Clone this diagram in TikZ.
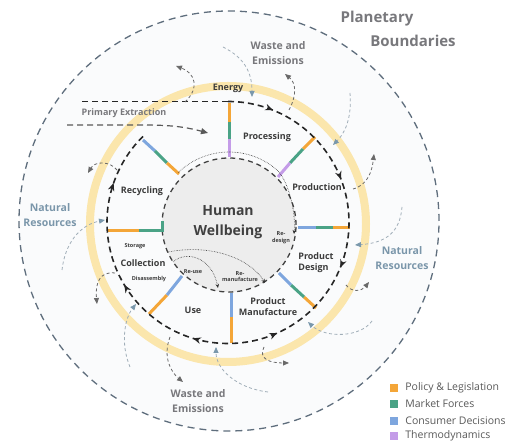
\documentclass[tikz,border=0pt]{standalone}
\usepackage{fontspec}
\setmainfont{Open Sans}
\usetikzlibrary{arrows.meta,decorations.markings,positioning}

\definecolor{policy}{RGB}{244,166,56}
\definecolor{market}{RGB}{74,163,134}
\definecolor{consumer}{RGB}{126,166,222}
\definecolor{thermo}{RGB}{196,156,232}
\definecolor{ringyellow}{RGB}{251,230,172}
\definecolor{bgfill}{RGB}{250,251,252}
\definecolor{hubfill}{RGB}{237,237,237}
\definecolor{boundary}{RGB}{95,110,125}
\definecolor{labeltext}{RGB}{60,60,60}
\definecolor{greytext}{RGB}{120,120,124}
\definecolor{resourcetext}{RGB}{122,150,170}
\definecolor{outgrey}{RGB}{105,105,105}
\definecolor{ingrey}{RGB}{160,174,184}
\definecolor{inhead}{RGB}{122,152,172}

\tikzset{
  boundaryline/.style={boundary, line width=1.3pt, dash pattern=on 7pt off 5pt},
  procline/.style={black!85, line width=1.6pt, dash pattern=on 6pt off 4pt},
  hubline/.style={black!75, line width=1.3pt, dash pattern=on 5pt off 4pt},
  spoke/.style={line width=3pt},
  loopline/.style={black!80, line width=0.6pt, densely dotted, -{Stealth[length=4pt,width=3.5pt]}},
  outflow/.style={outgrey, line width=0.8pt, dash pattern=on 3pt off 2.5pt, -{Triangle[length=6pt,width=5pt]}},
  inflow/.style={ingrey, line width=0.8pt, dash pattern=on 3pt off 2.5pt, -{Triangle[length=6pt,width=5pt,color=inhead]}},
  stage/.style={font=\bfseries\fontsize{9}{11}\selectfont, text=labeltext, align=center, inner sep=0pt},
  minor/.style={font=\bfseries\fontsize{5.5}{6.5}\selectfont, text=labeltext, align=center, inner sep=0pt},
  outside/.style={font=\bfseries\fontsize{10.5}{15}\selectfont, text=greytext, align=center, inner sep=0pt},
  resource/.style={font=\bfseries\fontsize{10.5}{15}\selectfont, text=resourcetext, align=center, inner sep=0pt},
  keybox/.style={minimum size=8pt, inner sep=0pt},
  keytext/.style={font=\fontsize{10.5}{12}\selectfont, text=black!65, inner sep=0pt, anchor=west}
}

\begin{document}
\begin{tikzpicture}[x=1pt,y=1pt]
  \useasboundingbox (0,0) rectangle (527,443);

  % planetary boundary
  \fill[bgfill] (229,222) circle[radius=210pt];
  \draw[boundaryline] (229,222) circle[radius=210pt];

  % energy ring
  \draw[ringyellow, line width=8pt] (228,219) circle[radius=138pt];

  % human wellbeing hub
  \fill[hubfill] (229,218) circle[radius=67pt];
  \draw[hubline] (229,218) circle[radius=67pt];

  % spokes, outer end first
  \draw[spoke, policy] (229,340) -- (229,321);
  \draw[spoke, market] (229,321) -- (229,304);
  \draw[spoke, thermo] (229,304) -- (229,286);

  \draw[spoke, policy] (315,306) -- (303,294);
  \draw[spoke, market] (303,294) -- (290,280);
  \draw[spoke, thermo] (290,280) -- (278,266);

  \draw[spoke, policy] (350,215) -- (333,215);
  \draw[spoke, market] (333,215) -- (316,215);
  \draw[spoke, consumer] (316,215) -- (298,215);

  \draw[spoke, policy] (316,135) -- (304,146);
  \draw[spoke, market] (304,146) -- (291,158);
  \draw[spoke, consumer] (291,158) -- (279,170);

  \draw[spoke, policy] (231,100) -- (231,126);
  \draw[spoke, consumer] (231,126) -- (231,150);

  \draw[spoke, policy] (149,129) -- (167,148);
  \draw[spoke, consumer] (167,148) -- (182,167);

  \draw[spoke, policy] (107,212) -- (139,212);
  \draw[spoke, market] (139,212) -- (162,212) -- (162,222);

  \draw[spoke, consumer] (143,303) -- (155,292);
  \draw[spoke, market] (155,292) -- (167,280);
  \draw[spoke, policy] (167,280) -- (179,269);

  % life cycle loop
  \draw[procline] (82,341.5) -- (228,341.5);
  \draw[procline, postaction={decorate}, decoration={markings,
      mark=at position 0.069 with {\arrow{Stealth[length=8pt,width=6.5pt]}},
      mark=at position 0.218 with {\arrow{Stealth[length=8pt,width=6.5pt]}},
      mark=at position 0.353 with {\arrow{Stealth[length=8pt,width=6.5pt]}},
      mark=at position 0.492 with {\arrowreversed{Stealth[length=8pt,width=6.5pt]}},
      mark=at position 0.621 with {\arrow{Stealth[length=8pt,width=6.5pt]}},
      mark=at position 0.754 with {\arrow{Stealth[length=8pt,width=6.5pt]}},
      mark=at position 0.912 with {\arrow{Stealth[length=8pt,width=6.5pt]}}}]
    (228,341.5) arc[start angle=90, end angle=-227, radius=121pt];

  % primary extraction feed
  \draw[black!65, line width=1.2pt, dash pattern=on 6pt off 4pt, -{Triangle[length=7pt,width=6pt]}]
    (67,318) -- (140,318) to[out=0, in=165] (208,310);

  % inner loops
  \draw[loopline] (178.3,270.5) arc[start angle=134, end angle=50, radius=73pt]
    .. controls (288,264) and (296,232) .. (294,209);
  \draw[loopline] (168,191) .. controls (215,200) and (252,182) .. (265,160);
  \draw[loopline] (173,181) .. controls (186,193) and (212,186) .. (218,155);

  % flows out of and into the loop
  \draw[outflow] (185,341) .. controls (200,355) and (195,370) .. (176,377);
  \draw[inflow] (223,396) .. controls (245,385) and (252,370) .. (252,346);
  \draw[outflow] (289,333) .. controls (297,348) and (296,360) .. (285,369);
  \draw[inflow] (350,350) .. controls (352,325) and (345,310) .. (333,298);
  \draw[outflow] (353,254) .. controls (368,258) and (372,272) .. (374,289);
  \draw[inflow] (402,236) .. controls (400,210) and (385,200) .. (355,198);
  \draw[outflow] (346,158) .. controls (352,150) and (362,152) .. (369,161);
  \draw[inflow] (372,122) .. controls (360,105) and (325,105) .. (308,121);
  \draw[outflow] (264,96) .. controls (258,84) and (270,80) .. (289,80);
  \draw[inflow] (268,51) .. controls (235,55) and (216,75) .. (216,96);
  \draw[outflow] (170,106) .. controls (162,85) and (172,70) .. (183,61);
  \draw[inflow] (130,76) .. controls (120,100) and (125,125) .. (136,139);
  \draw[outflow] (115,170) .. controls (100,172) and (95,160) .. (97,139);
  \draw[inflow] (62,173) .. controls (65,200) and (80,218) .. (105,223);
  \draw[outflow] (117,273) .. controls (110,282) and (95,282) .. (88,270);

  % stage labels
  \node[stage] (energy) at (228,355) {Energy};
  \node[stage] (processing) at (267,306) {Processing};
  \node[stage] (production) at (317,256) {Production};
  \node[stage, align=left] (design) at (316,180) {Product\\Design};
  \node[stage] (manufacture) at (268,136) {Product\\Manufacture};
  \node[stage] (use) at (193,133) {Use};
  \node[stage] (collection) at (143,180) {Collection};
  \node[stage] (recycling) at (142,252) {Recycling};
  \node[minor] (storage) at (135,197) {Storage};
  \node[minor] (disassembly) at (149,164) {Disassembly};
  \node[minor] (redesign) at (281,205.5) {Re-\\design};
  \node[minor] (reuse) at (193,171) {Re-use};
  \node[minor] (remanufacture) at (240,166.5) {Re-\\manufacture};
  \node[font=\bfseries\fontsize{14}{20}\selectfont, text=black!75, align=center, inner sep=0pt]
    (wellbeing) at (228,221) {Human\\Wellbeing};

  % outside labels
  \node[font=\bfseries\fontsize{9}{11}\selectfont, text=greytext, inner sep=0pt] (extraction) at (124,330) {Primary Extraction};
  \node[font=\bfseries\fontsize{15}{18}\selectfont, text=greytext, inner sep=0pt] (planetary) at (377,424) {Planetary};
  \node[font=\bfseries\fontsize{15}{18}\selectfont, text=greytext, inner sep=0pt] (boundaries) at (413,402) {Boundaries};
  \node[outside] (wastetop) at (278,390) {Waste and\\Emissions};
  \node[outside] (wastebottom) at (198,41.5) {Waste and\\Emissions};
  \node[resource] (resourcesleft) at (50,227.5) {Natural\\Resources};
  \node[resource] (resourcesright) at (402,185) {Natural\\Resources};

  % key
  \node[keybox, fill=policy] (keypolicy) at (394,55) {};
  \node[keybox, fill=market] (keymarket) at (394,39) {};
  \node[keybox, fill=consumer] (keyconsumer) at (394,22) {};
  \node[keybox, fill=thermo] (keythermo) at (394,7) {};
  \node[keytext, right=7pt of keypolicy] {Policy \& Legislation};
  \node[keytext, right=7pt of keymarket] {Market Forces};
  \node[keytext, right=7pt of keyconsumer] {Consumer Decisions};
  \node[keytext, right=7pt of keythermo] {Thermodynamics};
\end{tikzpicture}
\end{document}
